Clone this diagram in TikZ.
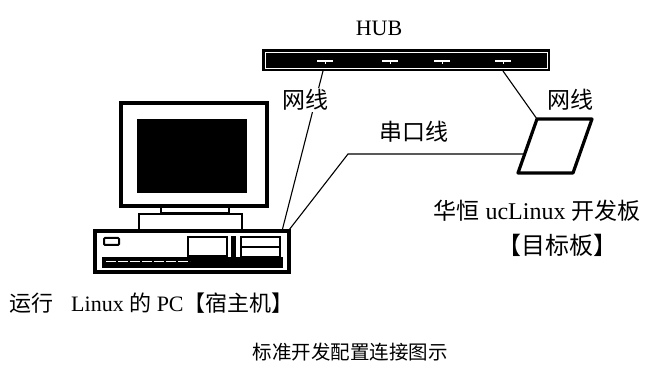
\documentclass[tikz,border=0pt]{standalone}
\usepackage{fontspec}
\setmainfont{Liberation Serif}
\newfontfamily\cjk{Noto Sans CJK SC}
\usetikzlibrary{positioning,calc}

\begin{document}
\begin{tikzpicture}[%
x=1pt,y=-1pt,
lbl/.style={inner sep=1pt,font=\cjk\fontsize{23}{25}\selectfont},
txt/.style={inner sep=1pt,font=\fontsize{22}{25}\selectfont},
cable/.style={line width=1.1pt},
heavy/.style={draw,line width=3.2pt}
]
\useasboundingbox (0,0) rectangle (654,382);

% hub
\node[txt] (hub) at (379,28) {HUB};
\fill (262,49) rectangle (550,71);
\draw[white,line width=0.8pt] (265,52) rectangle (547,68);
\foreach \x in {325,390,442,503}{
  \draw[white,line width=2.2pt] (\x-8,61) -- (\x+8,61);
  \draw[white,line width=1pt] (\x,61) -- (\x,64);
}
\coordinate (hubL) at (323,71);
\coordinate (hubR) at (503,71);

% host pc: monitor, stand, case
\draw[heavy,fill=white] (121,103) rectangle (267,206);
\fill (137,119) rectangle (247,193);
\draw[line width=2pt] (161,207) rectangle (229,213);
\draw[line width=2.4pt] (139,214) rectangle (242,230);
\draw[heavy] (95,231) rectangle (289,272);
\draw[line width=2pt,rounded corners=1pt] (104,238) rectangle (119,245);
\draw[line width=2pt] (188,237) rectangle (227,256);
\fill (231,236) rectangle (236,261);
\draw[line width=2pt] (241,237) rectangle (280,257);
\draw[line width=1.2pt] (241,247) -- (280,247);
\fill (102,257) rectangle (283,268);
\draw[white,line width=1pt,dash pattern=on 10pt off 2pt] (106,262) -- (190,262);
\coordinate (pcnet) at (282,231);
\coordinate (pcser) at (289,230);

% target board
\coordinate (b1) at (537,119);
\coordinate (b2) at (592,119);
\coordinate (b3) at (573,173);
\coordinate (b4) at (518,173);
\draw[heavy,line join=round] (b1) -- (b2) -- (b3) -- (b4) -- cycle;
\coordinate (bend) at (348,154);
\coordinate (serin) at ($(b1)!0.65!(b4)$);

% cables
\draw[cable] (hubL) -- (pcnet);
\draw[cable] (hubR) -- (b1);
\draw[cable] (pcser) -- (bend) -- (bend -| serin);

% labels
\node[lbl,fill=white] (netL) at (305,100) {网线};
\node[lbl] (netR) at (570,100) {网线};
\node[lbl] (serial) at (414,132) {串口线};
\node[txt,font=\fontsize{24}{26}\selectfont] (board) at (537,211) {{\cjk\fontsize{23}{25}\selectfont 华恒} ucLinux {\cjk\fontsize{23}{25}\selectfont 开发板}};
\node[lbl,font=\cjk\fontsize{24}{26}\selectfont] (boardtag) at (557,245) {【目标板】};
\node[txt,anchor=west] (host) at (8,303) {{\cjk 运行}\hspace{18pt}Linux {\cjk 的} PC{\cjk 【宿主机】}};
\node[lbl,font=\cjk\fontsize{19.5}{22}\selectfont] (caption) at (350,352) {标准开发配置连接图示};
\end{tikzpicture}
\end{document}
